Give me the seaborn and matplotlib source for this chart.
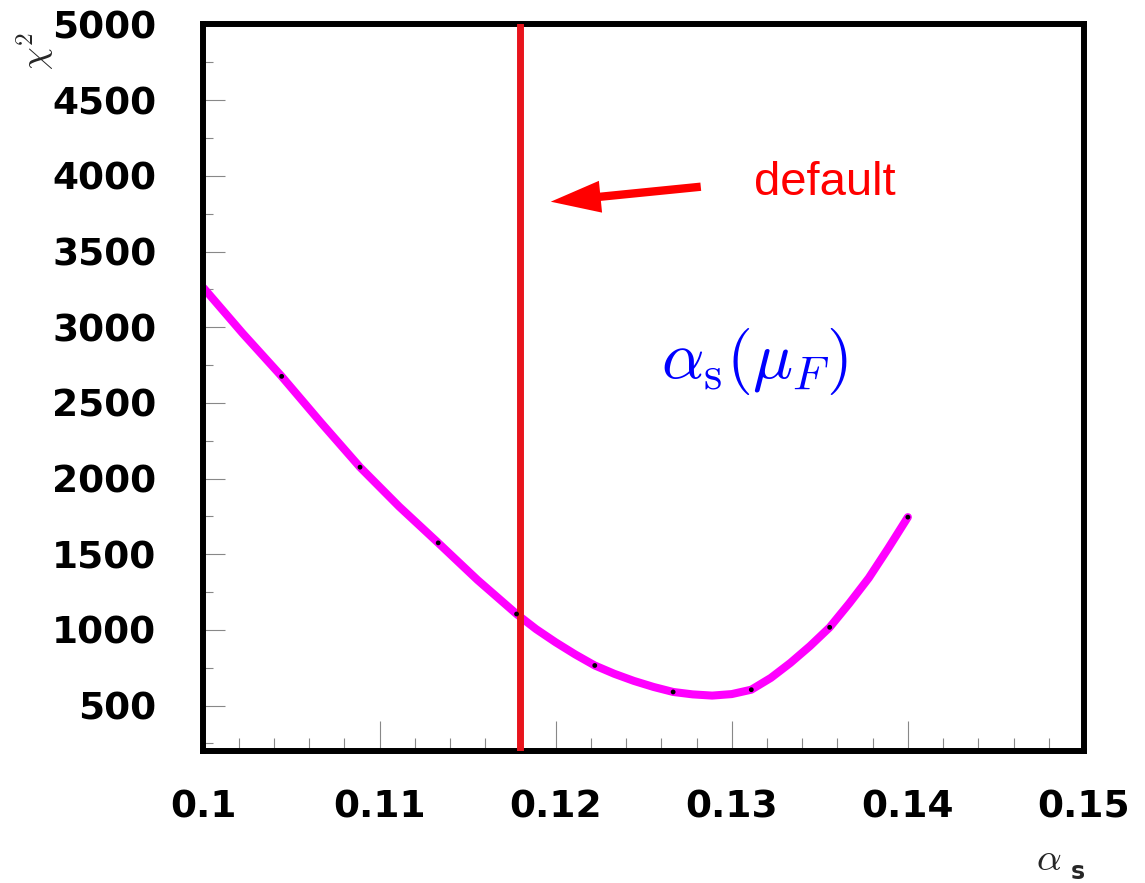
import matplotlib
matplotlib.use("Agg")
import matplotlib.pyplot as plt
import seaborn as sns
from matplotlib.ticker import FixedLocator, MultipleLocator

# ---- data ----
alpha_s = [0.1, 0.10444, 0.10889, 0.11333, 0.11778, 0.12222, 0.12667, 0.13111, 0.13556, 0.14]
chi2 = [3260, 2675, 2075, 1575, 1105, 765, 590, 605, 1017, 1745]

# points
curve_alpha = [0.1, 0.10222, 0.10444, 0.10667, 0.10889, 0.11111, 0.11333, 0.11556, 0.11778,
               0.11889, 0.12, 0.12111, 0.12222, 0.12333, 0.12444, 0.12556, 0.12667, 0.12778,
               0.12889, 0.13, 0.13111, 0.13222, 0.13333, 0.13444, 0.13556, 0.13667, 0.13778,
               0.13889, 0.14]
curve_chi2 = [3260, 2960, 2675, 2370, 2075, 1815, 1575, 1330, 1105,
              1005, 918, 838, 765, 710, 663, 623, 590, 574,
              566, 576, 605, 683, 782, 893, 1017, 1175, 1343,
              1540, 1745]

default_alpha = 0.118

x_ticks = [0.1, 0.11, 0.12, 0.13, 0.14, 0.15]
x_tick_labels = ["0.1", "0.11", "0.12", "0.13", "0.14", "0.15"]
y_ticks = [500, 1000, 1500, 2000, 2500, 3000, 3500, 4000, 4500, 5000]
y_tick_labels = ["500", "1000", "1500", "2000", "2500", "3000", "3500", "4000", "4500", "5000"]

# ---- style ----
sns.set_theme(style="white")
plt.rcParams["font.family"] = ["DejaVu Sans"]
plt.rcParams["mathtext.fontset"] = "cm"

fig = plt.figure(figsize=(11.45, 8.83), dpi=100)
ax = fig.add_axes([0.1777, 0.1495, 0.769, 0.8228])

sns.lineplot(x=curve_alpha, y=curve_chi2, color="#ff00ff", lw=5.8, ax=ax, sort=False, zorder=2,
             solid_joinstyle="round", solid_capstyle="round")
ax.axvline(default_alpha, color="#e8141c", lw=5, zorder=3)
sns.scatterplot(x=alpha_s, y=chi2, color="black", s=12, edgecolor="none", ax=ax, zorder=4)

ax.set_xlim(0.1, 0.15)
ax.set_ylim(200, 5000)

ax.xaxis.set_major_locator(FixedLocator(x_ticks))
ax.set_xticklabels(x_tick_labels)
ax.xaxis.set_minor_locator(MultipleLocator(0.002))
ax.yaxis.set_major_locator(FixedLocator(y_ticks))
ax.set_yticklabels(y_tick_labels)
ax.yaxis.set_minor_locator(MultipleLocator(250))

ax.tick_params(which="both", direction="in", color="#888888", width=0.8,
               bottom=True, left=True, top=False, right=False)
ax.tick_params(axis="x", which="major", length=21.6, pad=28, labelsize=27)
ax.tick_params(axis="x", which="minor", length=9.4)
ax.tick_params(axis="y", which="major", length=16, pad=34, labelsize=27)
ax.tick_params(axis="y", which="minor", length=7)
for lab in ax.get_xticklabels() + ax.get_yticklabels():
    lab.set_fontweight("bold")
    lab.set_color("black")

for sp in ax.spines.values():
    sp.set_linewidth(4.3)
    sp.set_color("black")
    sp.set_visible(True)

ax.set_xlabel("")
ax.set_ylabel("")

# annotations
ax.annotate("", xy=(0.11972, 3829), xytext=(0.12824, 3928),
            arrowprops=dict(arrowstyle="simple,head_length=1.8,head_width=1.15,tail_width=0.3",
                            mutation_scale=20, color="#ff0000", lw=0,
                            shrinkA=0, shrinkB=0))
ax.text(0.1353, 3952, "default", color="#ff0000", fontsize=34, ha="center", va="center",
        family="Liberation Sans")
ax.text(0.1313, 2771, r"$\alpha_{\rm s}(\mu_F)$", color="#0000ff", fontsize=48,
        ha="center", va="center")

# axis titles
fig.text(0.031, 0.942, r"$\chi^2$", rotation=90, fontsize=26, ha="center", va="center")
fig.text(0.916, 0.027, r"$\alpha$", fontsize=28, ha="center", va="center")
fig.text(0.9415, 0.0125, "s", fontsize=17, fontweight="bold", ha="center", va="center")

fig.savefig("out.png", dpi=100)
